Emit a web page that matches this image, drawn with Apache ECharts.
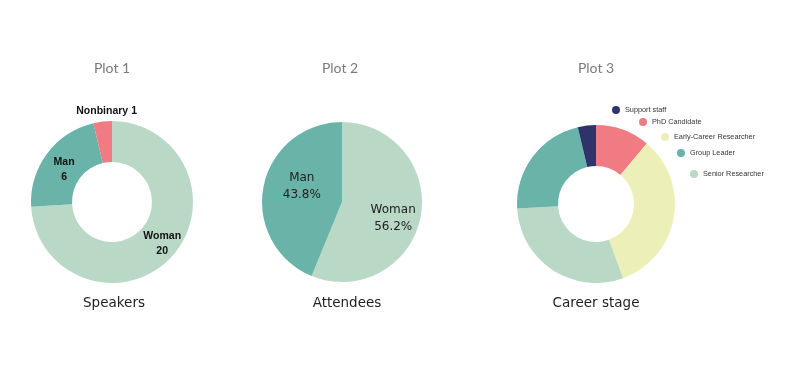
<!DOCTYPE html>
<html>
<head>
<meta charset="utf-8">
<script src="https://cdn.jsdelivr.net/npm/echarts@6/dist/echarts.min.js"></script>
<style>html,body{margin:0;padding:0;background:#fff;}#main{width:794px;height:378px;}</style>
</head>
<body>
<div id="main"></div>
<script>
// ---- data ----
const plotTitles = ['Plot 1', 'Plot 2', 'Plot 3'];
const plotCaptions = ['Speakers', 'Attendees', 'Career stage'];
const speakerNames = ['Woman', 'Man', 'Nonbinary'];
const speakerCounts = [20, 6, 1];
const attendeeNames = ['Woman', 'Man'];
const attendeePct = [56.2, 43.8];
const careerNames = ['PhD Candidate', 'Early-Career Researcher', 'Senior Researcher', 'Group Leader', 'Support staff'];
const careerCounts = [3, 9, 8, 6, 1];
const legendOrder = ['Support staff', 'PhD Candidate', 'Early-Career Researcher', 'Group Leader', 'Senior Researcher'];

// ---- styles ----
const colorMap = {
  'Woman': '#b9d8c6',
  'Man': '#69b3a9',
  'Nonbinary': '#f07b82',
  'PhD Candidate': '#f07b82',
  'Early-Career Researcher': '#ecf0b8',
  'Senior Researcher': '#b9d8c6',
  'Group Leader': '#69b3a9',
  'Support staff': '#2e336b'
};
const speakerLabelOffsets = { 'Woman': [4, -2], 'Man': [3, 5.5], 'Nonbinary': [2, -28] };
const attendeeLabelOffsets = { 'Woman': [9, 8], 'Man': [2, -7] };
const centersX = [112, 342, 596];
const titleX = [112, 340, 596];
const captionX = [114, 347, 596];
const legendPos = [[612, 106], [639, 118], [661, 133], [677, 149], [690, 170]];

const chart = echarts.init(document.getElementById('main'), null, { renderer: 'canvas' });

const titles = [];
plotTitles.forEach((t, i) => {
  titles.push({ text: t, left: titleX[i], top: 61, textAlign: 'center', padding: 0,
    textStyle: { fontFamily: 'Lato', fontSize: 14, fontWeight: 'normal', color: '#7a7a7a' } });
});
plotCaptions.forEach((t, i) => {
  titles.push({ text: t, left: captionX[i], top: 296, textAlign: 'center', padding: 0,
    textStyle: { fontFamily: 'DejaVu Sans', fontSize: 13.5, fontWeight: 'normal', color: '#1e1e1e' } });
});

const legends = legendOrder.map((name, i) => ({
  data: [name], left: legendPos[i][0], top: legendPos[i][1], padding: 0,
  itemWidth: 8, itemHeight: 8, icon: 'circle', selectedMode: false,
  textStyle: { fontFamily: 'Liberation Sans', fontSize: 7.3, color: '#333', lineHeight: 8 }
}));

const option = {
  animation: false,
  backgroundColor: '#fff',
  title: titles,
  legend: legends,
  series: [
    {
      type: 'pie', center: [centersX[0], 202], radius: [40, 81],
      startAngle: 90, clockwise: true, silent: true,
      labelLine: { show: false },
      data: speakerNames.map((n, i) => ({
        name: n, value: speakerCounts[i],
        itemStyle: { color: colorMap[n] },
        label: {
          show: true, position: 'inside', offset: speakerLabelOffsets[n],
          formatter: n === 'Nonbinary' ? '{b} {c}' : '{b}\n{c}',
          fontFamily: 'Liberation Sans', fontWeight: 'bold', fontSize: 10.5,
          lineHeight: 15, color: '#111'
        }
      }))
    },
    {
      type: 'pie', center: [centersX[1], 202], radius: [0, 80],
      startAngle: 90, clockwise: true, silent: true,
      labelLine: { show: false },
      data: attendeeNames.map((n, i) => ({
        name: n, value: attendeePct[i],
        itemStyle: { color: colorMap[n] },
        label: {
          show: true, position: 'inside', offset: attendeeLabelOffsets[n],
          formatter: '{b}\n{c}%',
          fontFamily: 'DejaVu Sans', fontWeight: 'normal', fontSize: 12,
          lineHeight: 17, color: '#222'
        }
      }))
    },
    {
      type: 'pie', center: [centersX[2], 204], radius: [38, 79],
      startAngle: 90, clockwise: true, silent: true,
      label: { show: false }, labelLine: { show: false },
      data: careerNames.map((n, i) => ({
        name: n, value: careerCounts[i], itemStyle: { color: colorMap[n] }
      }))
    }
  ]
};
chart.setOption(option);
</script>
</body>
</html>
